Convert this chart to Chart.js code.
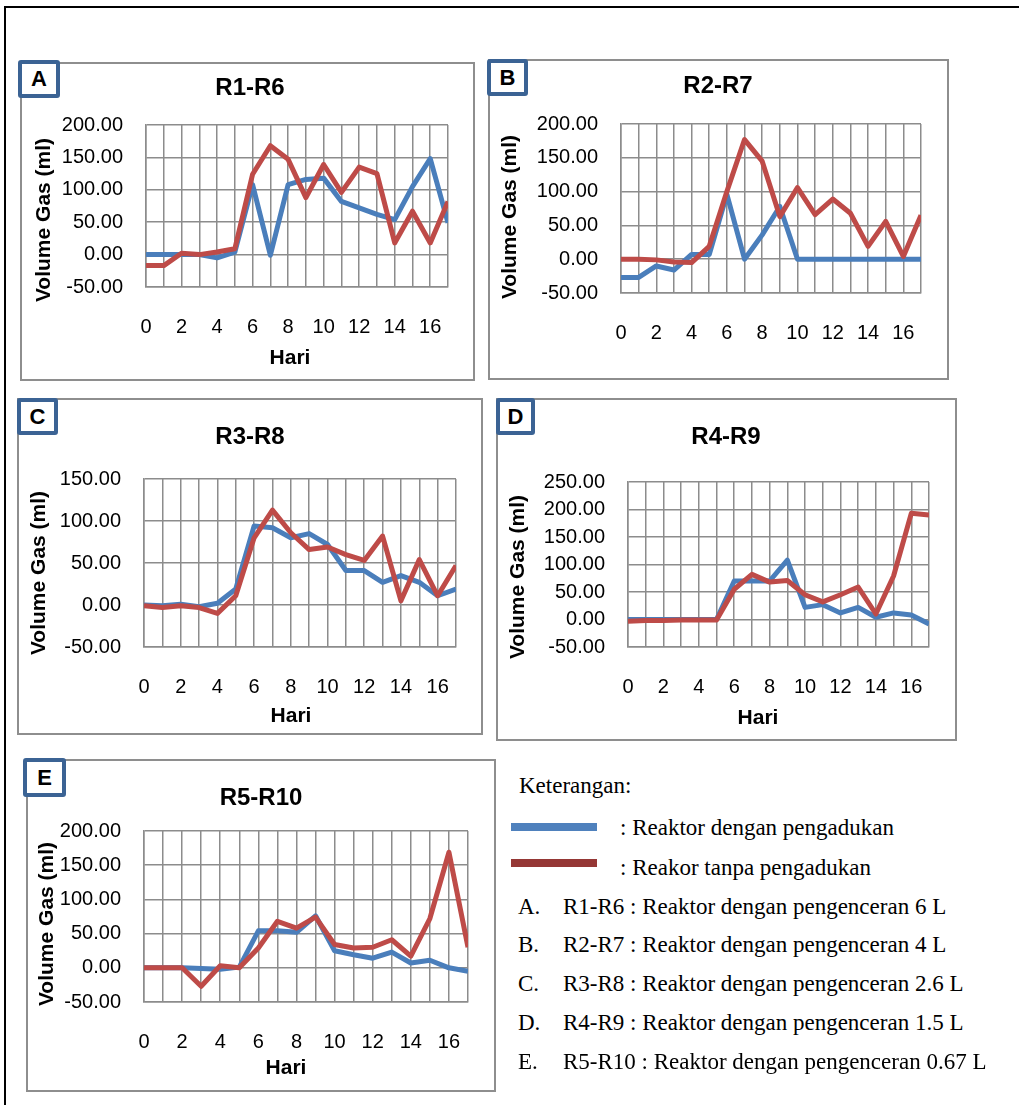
<!DOCTYPE html>
<html><head><meta charset="utf-8">
<script src="https://cdn.jsdelivr.net/npm/chart.js@4"></script>
<style>
body{margin:0;background:#fff;width:1019px;height:1105px;position:relative;overflow:hidden;font-family:"Liberation Sans",Arial,sans-serif;color:#000;}
.abs{position:absolute;}
.frame{left:4px;top:6px;width:1100px;height:1200px;border-top:2px solid #000;border-left:2px solid #000;}
.panel{border:2px solid #8e8e8e;box-sizing:border-box;background:#fff;z-index:1;}
.lbl{border:4px solid #3b6394;border-radius:3px;box-sizing:border-box;background:#fff;font-weight:bold;font-size:22px;display:flex;align-items:center;justify-content:center;z-index:5;}
.ttl{font-weight:bold;font-size:24px;line-height:30px;white-space:nowrap;transform:translate(-50%,-50%);z-index:3;}
.yt{font-weight:bold;font-size:21px;line-height:26px;white-space:nowrap;transform:translate(-50%,-50%) rotate(-90deg);z-index:3;}
.xt{font-weight:bold;font-size:21px;line-height:26px;white-space:nowrap;transform:translate(-50%,-50%);z-index:3;}
.leg{font-family:"Liberation Serif","Times New Roman",serif;font-size:23px;line-height:28px;white-space:nowrap;z-index:3;}
canvas{z-index:2;}
</style>
</head>
<body>
<div class="abs frame"></div>
<script>
// ---- data ----
const days = [0,1,2,3,4,5,6,7,8,9,10,11,12,13,14,15,16,17];
const seriesNames = ['Reaktor dengan pengadukan','Reakor tanpa pengadukan'];
const panelTitles = ['R1-R6','R2-R7','R3-R8','R4-R9','R5-R10'];
const panelLetters = ['A','B','C','D','E'];
const yAxisTitle = 'Volume Gas (ml)';
const xAxisTitle = 'Hari';

const r1  = [0,0,0,0,-5,4,108,-1,108,116,118,82,72,62,54,105,148,49];
const r6  = [-17,-17,2,0,4,9,124,168,147,88,139,96,135,125,18,67,18,82];
const r2  = [-27,-27,-10,-16,7,7,96,0,36,78,0,0,0,0,0,0,0,0];
const r7  = [0,0,-1,-4,-5,19,100,177,145,63,106,66,89,68,19,56,4,65];
const r3  = [0,-1,1,-2,2,19,94,92,80,85,72,41,41,27,35,27,11,19];
const r8  = [-1,-3,-1,-3,-10,11,80,113,86,66,69,60,53,82,5,54,11,47];
const r4  = [0,0,0,0,0,0,70,70,70,108,22,27,12,22,4,12,8,-8];
const r9  = [-3,-2,-2,-1,-1,-1,55,82,68,71,45,32,45,59,10,79,193,190];
const r5  = [0,0,0,-1,-2,1,54,54,52,76,25,19,14,23,7,11,0,-5];
const r10 = [0,0,0,-27,3,0,29,68,58,74,34,29,30,41,17,72,169,30];

const yTicksA = [-50,0,50,100,150,200];
const yTicksB = [-50,0,50,100,150,200];
const yTicksC = [-50,0,50,100,150];
const yTicksD = [-50,0,50,100,150,200,250];
const yTicksE = [-50,0,50,100,150,200];

const legendNotes = [
  ['A.','R1-R6 : Reaktor dengan pengenceran 6 L'],
  ['B.','R2-R7 : Reaktor dengan pengenceran 4 L'],
  ['C.','R3-R8 : Reaktor dengan pengenceran 2.6 L'],
  ['D.','R4-R9 : Reaktor dengan pengenceran 1.5 L'],
  ['E.','R5-R10 : Reaktor dengan pengenceran 0.67 L']
];

// ---- layout / style ----
const BLUE = '#4A7EBB', RED = '#BE4B48', GRID = '#8c8c8c';
const FONT = '"Liberation Sans", Arial, sans-serif';

const panels = [
  {blue:r1, red:r6, yt:yTicksA, box:[20,62,475,381], lbl:[18,60,42,38], plot:[146,125,448,287], title:[250,87], ytc:[43,220], xtc:[290,357]},
  {blue:r2, red:r7, yt:yTicksB, box:[488,59,949,380], lbl:[487,59,41,37], plot:[621,124,921,293], title:[718,85], ytc:[509,217], xtc:null},
  {blue:r3, red:r8, yt:yTicksC, box:[17,398,483,735], lbl:[17,398,41,37], plot:[144,479,456,647], title:[250,436], ytc:[38,573], xtc:[291,715]},
  {blue:r4, red:r9, yt:yTicksD, box:[496,398,957,741], lbl:[496,398,39,37], plot:[628,482,929,647], title:[726,436], ytc:[517,577], xtc:[758,717]},
  {blue:r5, red:r10, yt:yTicksE, box:[26,759,496,1092], lbl:[23,758,43,39], plot:[144,831,468,1002], title:[261,797], ytc:[46,924], xtc:[286,1067]}
];

function addDiv(cls, style, text){
  const d = document.createElement('div');
  d.className = 'abs ' + cls;
  d.style.cssText = style;
  if (text !== undefined) d.textContent = text;
  document.body.appendChild(d);
  return d;
}

panels.forEach((p, k) => {
  addDiv('panel', `left:${p.box[0]}px;top:${p.box[1]}px;width:${p.box[2]-p.box[0]}px;height:${p.box[3]-p.box[1]}px;`);
  addDiv('lbl', `left:${p.lbl[0]}px;top:${p.lbl[1]}px;width:${p.lbl[2]}px;height:${p.lbl[3]}px;`, panelLetters[k]);
  addDiv('ttl', `left:${p.title[0]}px;top:${p.title[1]}px;`, panelTitles[k]);
  addDiv('yt', `left:${p.ytc[0]}px;top:${p.ytc[1]}px;`, yAxisTitle);
  if (p.xtc) addDiv('xt', `left:${p.xtc[0]}px;top:${p.xtc[1]}px;`, xAxisTitle);

  const pw = p.plot[2]-p.plot[0], ph = p.plot[3]-p.plot[1];
  const cw = pw + 180, ch = ph + 150;
  const cv = document.createElement('canvas');
  cv.width = cw; cv.height = ch;
  cv.style.cssText = `position:absolute;left:0px;top:0px;width:${cw}px;height:${ch}px;z-index:2;`;
  document.body.appendChild(cv);

  let pad = {left: 30, right: 40, top: 40, bottom: 40};
  const chart = new Chart(cv, {
    type: 'line',
    data: {
      labels: days,
      datasets: [
        {label: seriesNames[0], data: p.blue, borderColor: BLUE, backgroundColor: BLUE, order: 1, clip: 0},
        {label: seriesNames[1], data: p.red, borderColor: RED, backgroundColor: RED, order: 0, clip: 0}
      ]
    },
    options: {
      responsive: false, animation: false, devicePixelRatio: 1,
      layout: {padding: pad},
      plugins: {legend: {display: false}, tooltip: {enabled: false}, title: {display: false}},
      elements: {point: {radius: 0, hoverRadius: 0}, line: {tension: 0, borderWidth: 5, borderJoinStyle: 'round', borderCapStyle: 'butt', fill: false}},
      scales: {
        x: {
          type: 'category', offset: false,
          grid: {color: GRID, lineWidth: 1.5, drawTicks: false, offset: false},
          border: {color: GRID, width: 1.5},
          ticks: {autoSkip: false, maxRotation: 0, minRotation: 0, padding: 28, color: '#000',
                  font: {family: FONT, size: 20},
                  callback: (v, i) => (i % 2 === 0 ? String(days[i]) : '')},
          afterFit: s => { s.height = 60; }
        },
        y: {
          min: p.yt[0], max: p.yt[p.yt.length-1],
          grid: {color: GRID, lineWidth: 1.5, drawTicks: false},
          border: {color: GRID, width: 1.5},
          ticks: {autoSkip: false, padding: 23, color: '#000', font: {family: FONT, size: 20},
                  callback: v => Number(v).toFixed(2)},
          afterBuildTicks: s => { s.ticks = p.yt.map(v => ({value: v})); },
          afterFit: s => { s.width = 100; }
        }
      }
    }
  });
  // size the plot area to the reference, then place the canvas so it lands on the reference position
  for (let it = 0; it < 4; it++) {
    const ca = chart.chartArea;
    pad = {
      left: pad.left,
      top: pad.top,
      right: pad.right + ((ca.right - ca.left) - pw),
      bottom: pad.bottom + ((ca.bottom - ca.top) - ph)
    };
    chart.options.layout.padding = pad;
    chart.update('none');
  }
  const ca = chart.chartArea;
  cv.style.left = (p.plot[0] - ca.left) + 'px';
  cv.style.top = (p.plot[1] - ca.top) + 'px';
});

// ---- legend (Keterangan) ----
addDiv('leg', 'left:519px;top:772px;', 'Keterangan:');
addDiv('', 'left:511px;top:823px;width:86px;height:8px;background:#4F81BD;');
addDiv('leg', 'left:620px;top:814px;', ': ' + seriesNames[0]);
addDiv('', 'left:511px;top:859px;width:86px;height:8px;background:#953735;');
addDiv('leg', 'left:620px;top:854px;', ': ' + seriesNames[1]);
const noteTops = [893, 931, 970, 1009, 1048];
legendNotes.forEach((n, i) => {
  addDiv('leg', `left:518px;top:${noteTops[i]}px;`, n[0]);
  addDiv('leg', `left:563px;top:${noteTops[i]}px;`, n[1]);
});
</script>
</body></html>
